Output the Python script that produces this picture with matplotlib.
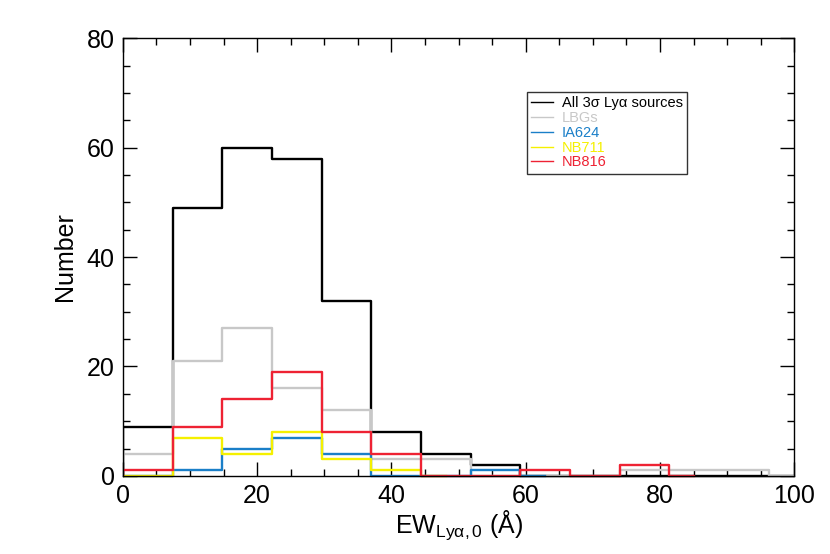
import matplotlib
matplotlib.use('Agg')
import matplotlib.pyplot as plt
from matplotlib.lines import Line2D
from matplotlib.transforms import Bbox, TransformedBbox
from matplotlib.ticker import MultipleLocator

plt.rcParams['font.family'] = ['Liberation Sans', 'DejaVu Sans']
plt.rcParams['mathtext.fontset'] = 'custom'
plt.rcParams['mathtext.rm'] = 'Liberation Sans'
plt.rcParams['mathtext.it'] = 'Liberation Sans:italic'

# histogram bin centres (IDL psym=10 style, first point sits before 0)
bin_centers = [-3.7, 3.7, 11.1, 18.5, 25.9, 33.3, 40.7, 48.1, 55.5, 62.9,
               70.3, 77.7, 85.1, 92.5, 99.9]

all_3sigma = [0, 9, 49, 60, 58, 32, 8, 4, 2, 0, 0, 0, 0, 0, 0]
lbgs = [0, 4, 21, 27, 16, 12, 3, 3, 0, 0, 0, 1, 1, 1, 0]
ia624 = [0, 0, 1, 5, 7, 4, 0, 0, 1, 0]
nb711 = [0, 0, 7, 4, 8, 3, 1, 0]
nb816 = [0, 1, 9, 14, 19, 8, 4, 0, 0, 1, 0, 2, 0]

labels = ['All 3σ Lyα sources', 'LBGs', 'IA624', 'NB711', 'NB816']
colors = ['black', '#c8c8c8', '#1a7fc8', '#f5f000', '#ee2233']
series = [all_3sigma, lbgs, ia624, nb711, nb816]

fig = plt.figure(figsize=(8.3, 5.54), dpi=100)
ax = fig.add_axes([0.148, 0.141, 0.809, 0.790])

# let lines lying on y=0 show their full width over the bottom axis
clip = TransformedBbox(Bbox.from_extents(0, -0.02, 1, 1), ax.transAxes)

for vals, col in zip(series, colors):
    line, = ax.step(bin_centers[:len(vals)], vals, where='mid', color=col, lw=1.7)
    line.set_clip_path(None)
    line.set_clip_box(clip)

ax.set_xlim(0, 100)
ax.set_ylim(0, 80)
ax.xaxis.set_major_locator(MultipleLocator(20))
ax.xaxis.set_minor_locator(MultipleLocator(5))
ax.yaxis.set_major_locator(MultipleLocator(20))
ax.yaxis.set_minor_locator(MultipleLocator(5))
ax.tick_params(which='both', direction='in', top=True, right=True,
               labelsize=18, width=1)
ax.tick_params(which='major', length=10, pad=6)
ax.tick_params(which='minor', length=5)
for s in ax.spines.values():
    s.set_linewidth(1)

ax.set_xlabel('EW$_{\\mathrm{Lyα,0}}$ (Å)', fontsize=18, labelpad=0)
ax.set_ylabel('Number', fontsize=18, labelpad=7)

handles = [Line2D([], [], color=c, lw=1) for c in colors]
leg = ax.legend(handles, labels, loc='upper left', bbox_to_anchor=(0.602, 0.877),
                borderaxespad=0, fontsize=10.5, frameon=True, fancybox=False,
                edgecolor='black', handlelength=1.5, handletextpad=0.6,
                labelspacing=0.05, borderpad=0.3)
leg.get_frame().set_linewidth(1)
for txt, c in zip(leg.get_texts(), colors):
    txt.set_color(c)

fig.savefig('out.png', dpi=100)
